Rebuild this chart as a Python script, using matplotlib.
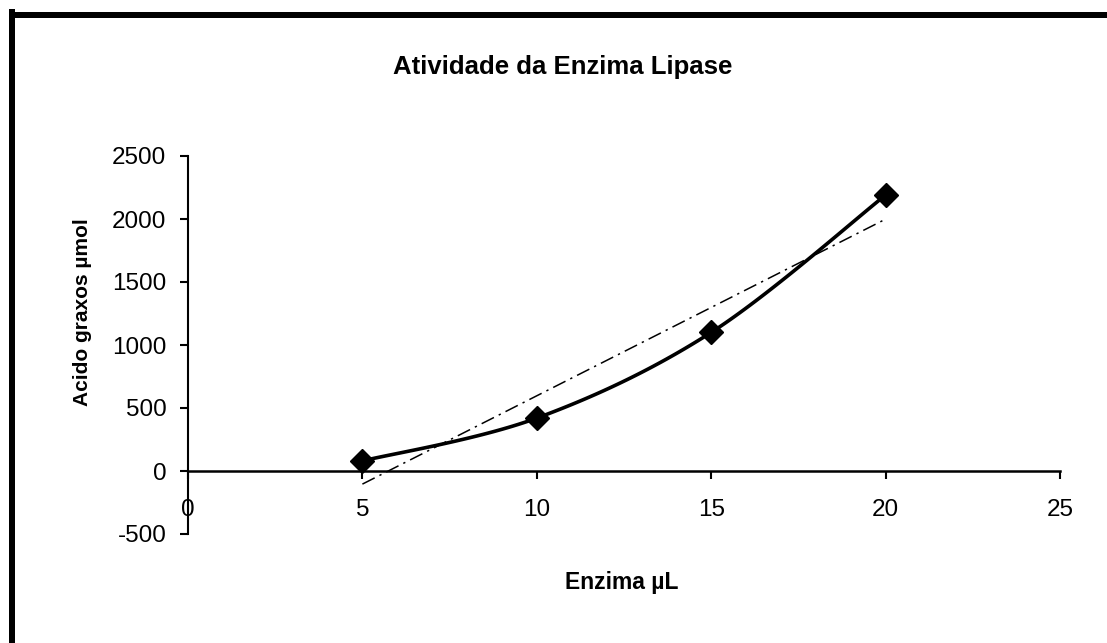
import numpy as np
import matplotlib
matplotlib.use("Agg")
import matplotlib.pyplot as plt
from matplotlib.lines import Line2D

# Data
enzima = [5, 10, 15, 20]
acidos = [80, 420, 1100, 2190]
x_ticks = [0, 5, 10, 15, 20, 25]
y_ticks = [-500, 0, 500, 1000, 1500, 2000, 2500]
title = "Atividade da Enzima Lipase"
xlabel = "Enzima µL"
ylabel = "Acido graxos µmol"

plt.rcParams['font.family'] = ['Liberation Sans', 'DejaVu Sans']

W, H = 1107, 643
fig = plt.figure(figsize=(W / 100, H / 100), dpi=100)
fig.patch.set_facecolor('white')

ax = fig.add_axes([188 / W, (H - 534) / H, 872 / W, 378 / H])
ax.set_xlim(0, 25)
ax.set_ylim(-500, 2500)


def excel_smooth(xs, ys, n=40):
    """Excel-like smoothed line: cubic Bezier with control points at 1/6 neighbour differences."""
    P = np.column_stack([xs, ys]).astype(float)
    pts = []
    m = len(P)
    for i in range(m - 1):
        p0 = P[i - 1] if i > 0 else P[i]
        p1 = P[i]
        p2 = P[i + 1]
        p3 = P[i + 2] if i + 2 < m else P[i + 1]
        c1 = p1 + (p2 - p0) / 6.0
        c2 = p2 - (p3 - p1) / 6.0
        t = np.linspace(0, 1, n)[:, None]
        seg = ((1 - t) ** 3) * p1 + 3 * ((1 - t) ** 2) * t * c1 + 3 * (1 - t) * t ** 2 * c2 + t ** 3 * p2
        pts.append(seg if i == 0 else seg[1:])
    pts = np.vstack(pts)
    return pts[:, 0], pts[:, 1]


# Linear trendline (fit through data)
coef = np.polyfit(enzima, acidos, 1)
tx = np.array([min(enzima), max(enzima)])
ax.plot(tx, np.polyval(coef, tx), color='black', linewidth=1.1,
        dashes=(9, 3.5, 1.5, 3.5), zorder=2)

sx, sy = excel_smooth(enzima, acidos)
ax.plot(sx, sy, color='black', linewidth=2.6, zorder=3, solid_capstyle='round')
ax.plot(enzima, acidos, linestyle='none', marker='D', markersize=12.5,
        color='black', zorder=4)

# Spines
for s in ['top', 'right']:
    ax.spines[s].set_visible(False)
ax.spines['bottom'].set_position(('data', 0))
ax.spines['left'].set_linewidth(1.5)
ax.spines['bottom'].set_linewidth(1.8)

ax.set_xticks(x_ticks)
ax.set_yticks(y_ticks)
ax.set_xticklabels([str(v) for v in x_ticks])
ax.set_yticklabels([str(v) for v in y_ticks])
ax.tick_params(axis='x', direction='out', length=5.5, width=1.5, pad=15, labelsize=17.5)
ax.tick_params(axis='y', direction='out', length=5.5, width=1.5, pad=10, labelsize=17.5)

fig.text(563 / W, (H - 67) / H, title, ha='center', va='center',
         fontsize=18.5, fontweight='bold')
fig.text(622 / W, (H - 583) / H, xlabel, ha='center', va='center',
         fontsize=16.5, fontweight='bold')
fig.text(82 / W, (H - 312) / H, ylabel, ha='center', va='center',
         rotation=90, fontsize=15, fontweight='bold')

# Thick frame (top and left edges visible)
lw = 6 * 72 / 100
fig.add_artist(Line2D([12 / W, 12 / W], [0, (H - 12) / H], transform=fig.transFigure,
                      color='black', linewidth=lw, solid_capstyle='projecting'))
fig.add_artist(Line2D([12 / W, 1.0], [(H - 15) / H, (H - 15) / H], transform=fig.transFigure,
                      color='black', linewidth=lw, solid_capstyle='butt'))

fig.savefig('out.png', dpi=100, facecolor='white')
